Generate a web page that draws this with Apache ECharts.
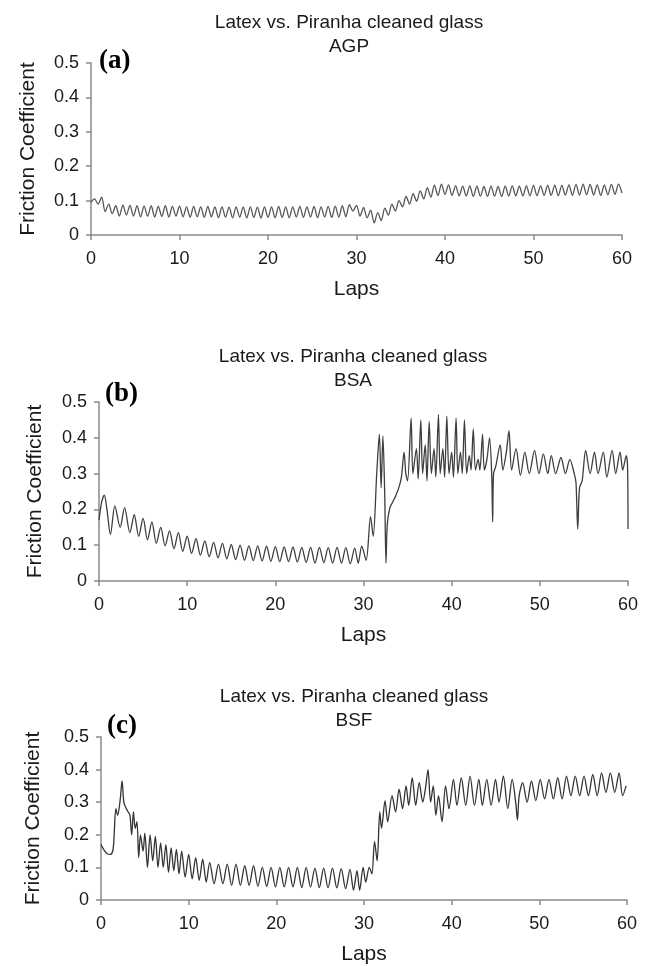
<!DOCTYPE html>
<html>
<head>
<meta charset="utf-8">
<script src="https://cdn.jsdelivr.net/npm/echarts@6/dist/echarts.min.js"></script>
<style>
html,body{margin:0;padding:0;background:#fff;}
#chart{width:646px;height:966px;}
</style>
</head>
<body>
<div id="chart"></div>
<script>
// ---------- data ----------
const yTicks = [0, 0.1, 0.2, 0.3, 0.4, 0.5];
const xTicks = [0, 10, 20, 30, 40, 50, 60];
const panelTitles = ['Latex vs. Piranha cleaned glass\nAGP', 'Latex vs. Piranha cleaned glass\nBSA', 'Latex vs. Piranha cleaned glass\nBSF'];
const panelLetters = ['(a)', '(b)', '(c)'];

// (a) AGP
const aLaps = [0,0.4,0.8,1.2,1.6,2,2.4,2.8,3.2,3.6,4,4.4,4.8,5.2,5.6,6,6.4,6.8,7.2,7.6,8,8.4,8.8,9.2,9.6,10,
10.4,10.8,11.2,11.6,12,12.4,12.8,13.2,13.6,14,14.4,14.8,15.2,15.6,16,16.4,16.8,17.2,17.6,18,18.4,18.8,19.2,19.6,20,
20.4,20.8,21.2,21.6,22,22.4,22.8,23.2,23.6,24,24.4,24.8,25.2,25.6,26,26.4,26.8,27.2,27.6,28,28.4,28.8,29.2,29.6,30,
30.4,30.8,31.2,31.6,32,32.4,32.8,33.2,33.6,34,34.4,34.8,35.2,35.6,36,36.4,36.8,37.2,37.6,38,38.4,38.8,39.2,39.6,40,
40.4,40.8,41.2,41.6,42,42.4,42.8,43.2,43.6,44,44.4,44.8,45.2,45.6,46,46.4,46.8,47.2,47.6,48,48.4,48.8,49.2,49.6,50,
50.4,50.8,51.2,51.6,52,52.4,52.8,53.2,53.6,54,54.4,54.8,55.2,55.6,56,56.4,56.8,57.2,57.6,58,58.4,58.8,59.2,59.6,60];
const aFriction = [0.095,0.105,0.09,0.11,0.068,0.09,0.062,0.085,0.055,0.087,0.058,0.086,0.055,0.085,0.053,0.084,0.055,0.085,0.052,0.084,0.054,0.085,0.052,0.083,0.055,0.084,
0.053,0.082,0.052,0.083,0.053,0.082,0.051,0.083,0.053,0.082,0.05,0.082,0.052,0.081,0.05,0.082,0.052,0.081,0.05,0.082,0.051,0.081,0.049,0.082,0.051,
0.082,0.05,0.083,0.051,0.082,0.05,0.082,0.052,0.083,0.051,0.082,0.052,0.083,0.05,0.082,0.052,0.083,0.051,0.084,0.052,0.085,0.053,0.088,0.07,0.086,
0.055,0.08,0.05,0.072,0.035,0.065,0.042,0.078,0.058,0.09,0.07,0.1,0.082,0.112,0.09,0.12,0.098,0.128,0.105,0.138,0.11,0.145,0.115,0.148,0.118,
0.146,0.115,0.143,0.114,0.142,0.113,0.143,0.112,0.142,0.113,0.141,0.112,0.142,0.113,0.141,0.112,0.142,0.113,0.143,0.114,0.142,0.113,0.143,0.114,0.144,
0.114,0.143,0.115,0.144,0.115,0.145,0.114,0.144,0.116,0.146,0.115,0.147,0.116,0.148,0.117,0.147,0.116,0.146,0.115,0.145,0.117,0.147,0.118,0.148,0.122];

// (b) BSA
const bLaps = [0,0.3,0.6,0.9,1.3,1.8,2.4,2.9,3.5,4,4.5,5,5.5,6,6.5,7,7.5,8,8.5,9,9.5,10,10.5,11,11.5,12,12.5,13,13.5,14,14.5,15,15.5,16,16.5,17,17.5,18,18.5,19,19.5,20,
20.5,21,21.5,22,22.5,23,23.5,24,24.5,25,25.5,26,26.5,27,27.5,28,28.5,29,29.4,29.8,30.3,30.8,31.1,31.5,31.8,32,32.2,32.4,32.55,32.7,33,33.3,33.6,34,34.3,34.6,34.8,35,
35.4,35.6,36,36.2,36.5,36.7,37,37.2,37.45,37.7,38,38.2,38.5,38.7,39,39.2,39.45,39.7,40,40.2,40.5,40.7,41,41.2,41.45,41.7,42,42.2,42.45,42.7,43,43.2,43.5,43.7,44,44.3,44.55,44.65,44.75,45,
45.5,45.8,46.2,46.5,46.8,47.3,47.8,48.3,48.8,49.4,49.9,50.4,50.9,51.3,51.8,52.4,52.9,53.4,53.9,54.1,54.3,54.5,54.8,55.2,55.7,56.2,56.6,57.2,57.6,58.2,58.6,59.1,59.4,59.8,59.95,60];
const bFriction = [0.17,0.22,0.24,0.2,0.13,0.21,0.15,0.205,0.135,0.185,0.125,0.175,0.115,0.165,0.105,0.15,0.098,0.14,0.09,0.135,0.083,0.125,0.077,0.118,0.072,0.112,0.068,0.108,0.065,0.105,0.062,0.102,0.06,0.1,0.058,0.098,0.057,0.098,0.056,0.097,0.055,0.096,
0.054,0.095,0.054,0.095,0.053,0.094,0.052,0.094,0.05,0.094,0.051,0.093,0.05,0.094,0.05,0.093,0.048,0.092,0.05,0.097,0.058,0.18,0.125,0.3,0.41,0.26,0.405,0.25,0.05,0.16,0.205,0.22,0.235,0.26,0.29,0.36,0.3,0.28,
0.455,0.3,0.37,0.285,0.45,0.3,0.38,0.28,0.445,0.3,0.37,0.29,0.465,0.3,0.37,0.29,0.46,0.3,0.36,0.29,0.455,0.3,0.36,0.3,0.45,0.3,0.35,0.31,0.425,0.31,0.34,0.31,0.41,0.31,0.34,0.4,0.29,0.165,0.3,0.32,
0.38,0.31,0.36,0.42,0.31,0.37,0.295,0.36,0.3,0.365,0.3,0.355,0.3,0.35,0.3,0.345,0.3,0.34,0.3,0.275,0.145,0.26,0.28,0.365,0.3,0.36,0.3,0.36,0.29,0.365,0.3,0.36,0.31,0.35,0.32,0.145];

// (c) BSF
const cLaps = [0,0.3,0.7,1.1,1.4,1.7,1.9,2.2,2.4,2.6,2.8,3.1,3.3,3.5,3.7,3.9,4.1,4.3,4.5,4.8,5,5.3,5.6,5.9,6.2,6.5,6.8,7.1,7.4,7.7,8,8.3,8.6,8.9,9.2,9.6,10,
10.4,10.8,11.2,11.6,12,12.4,12.9,13.4,13.9,14.4,14.9,15.4,15.9,16.4,16.9,17.4,17.9,18.4,18.9,19.4,19.9,20.4,20.9,21.4,21.9,22.4,22.9,23.4,23.9,24.4,24.9,25.4,25.9,26.4,26.9,27.4,27.9,28.4,28.8,29.2,29.5,29.9,
30.2,30.6,30.9,31.2,31.5,31.8,32,32.4,32.7,33.2,33.6,34,34.4,34.8,35.1,35.5,35.9,36.3,36.7,37,37.3,37.6,37.9,38.2,38.5,38.9,39.3,39.7,40.2,40.6,41.1,41.6,42.1,42.6,43.1,43.5,44,44.5,45,45.4,45.9,46.4,46.9,47.3,47.5,47.7,
48.1,48.6,49.1,49.6,50.1,50.6,51.1,51.6,52.1,52.6,53.1,53.6,54.1,54.6,55.1,55.6,56.1,56.6,57.1,57.6,58.1,58.6,59.1,59.5,59.9];
const cFriction = [0.17,0.155,0.142,0.14,0.16,0.28,0.26,0.31,0.365,0.3,0.285,0.27,0.26,0.2,0.27,0.22,0.24,0.13,0.2,0.15,0.205,0.1,0.2,0.12,0.195,0.1,0.175,0.1,0.17,0.085,0.16,0.09,0.155,0.08,0.15,0.07,0.14,
0.065,0.13,0.06,0.125,0.055,0.115,0.05,0.11,0.05,0.11,0.045,0.11,0.045,0.105,0.045,0.105,0.042,0.1,0.042,0.1,0.04,0.1,0.04,0.1,0.04,0.1,0.038,0.1,0.04,0.098,0.038,0.098,0.037,0.098,0.037,0.096,0.035,0.094,0.03,0.09,0.03,0.1,
0.055,0.1,0.08,0.18,0.12,0.27,0.22,0.305,0.24,0.32,0.27,0.34,0.28,0.35,0.29,0.375,0.29,0.36,0.3,0.34,0.4,0.3,0.35,0.26,0.32,0.24,0.35,0.28,0.37,0.29,0.375,0.29,0.38,0.29,0.37,0.29,0.37,0.29,0.37,0.3,0.38,0.28,0.37,0.3,0.245,0.32,
0.36,0.3,0.365,0.305,0.37,0.31,0.37,0.31,0.375,0.31,0.38,0.32,0.38,0.32,0.38,0.32,0.385,0.32,0.39,0.33,0.39,0.33,0.39,0.32,0.35];

// ---------- layout ----------
const grids = [
  {left: 91, top: 63, width: 531, height: 172},
  {left: 99, top: 402, width: 529, height: 179},
  {left: 101, top: 737, width: 526, height: 168}
];
const titlePos = [{x: 344, y: 6}, {x: 348, y: 340}, {x: 349, y: 680}];
const letterPos = [{x: 99, y: 63}, {x: 105, y: 396}, {x: 107, y: 728}];
const yNameGap = [52, 53, 57];
const lineColors = ['#555555', '#3e3e3e', '#333333'];

const series = [[aLaps, aFriction], [bLaps, bFriction], [cLaps, cFriction]];

const axisColor = '#8a8a8a';
const textColor = '#1a1a1a';
const font = 'Liberation Sans, Arial, sans-serif';

const option = {
  animation: false,
  backgroundColor: '#fff',
  title: panelTitles.map((t, i) => ({
    text: t,
    left: titlePos[i].x,
    top: titlePos[i].y,
    textAlign: 'center',
    textStyle: {fontFamily: font, fontSize: 19, fontWeight: 'normal', color: textColor, lineHeight: 24}
  })),
  graphic: panelLetters.map((l, i) => ({
    type: 'text',
    left: letterPos[i].x,
    top: letterPos[i].y - 15,
    style: {text: l, font: 'bold 27px "Liberation Serif", "Times New Roman", serif', fill: '#000'}
  })),
  grid: grids,
  xAxis: grids.map((g, i) => ({
    type: 'value', gridIndex: i, min: xTicks[0], max: xTicks[xTicks.length - 1], interval: 10,
    name: 'Laps', nameLocation: 'middle', nameGap: 44,
    nameTextStyle: {fontFamily: font, fontSize: 21, color: textColor},
    axisLine: {show: true, lineStyle: {color: axisColor, width: 1.5}},
    axisTick: {show: true, length: 5, inside: false, lineStyle: {color: axisColor, width: 1.5}},
    axisLabel: {fontFamily: font, fontSize: 18, color: textColor, margin: 15},
    splitLine: {show: false}
  })),
  yAxis: grids.map((g, i) => ({
    type: 'value', gridIndex: i, min: yTicks[0], max: yTicks[yTicks.length - 1], interval: 0.1,
    name: 'Friction Coefficient', nameLocation: 'middle', nameGap: yNameGap[i],
    nameTextStyle: {fontFamily: font, fontSize: 21, color: textColor},
    axisLine: {show: true, lineStyle: {color: axisColor, width: 1.5}},
    axisTick: {show: true, length: 5, inside: false, lineStyle: {color: axisColor, width: 1.5}},
    axisLabel: {fontFamily: font, fontSize: 18, color: textColor, margin: 12},
    splitLine: {show: false}
  })),
  series: series.map((s, i) => ({
    type: 'line', xAxisIndex: i, yAxisIndex: i,
    data: s[0].map((x, k) => [x, s[1][k]]),
    showSymbol: false, symbol: 'none',
    smooth: 0.3,
    lineStyle: {color: lineColors[i], width: 1.3},
    silent: true
  }))
};

const chart = echarts.init(document.getElementById('chart'), null, {renderer: 'canvas'});
chart.setOption(option);
</script>
</body>
</html>
